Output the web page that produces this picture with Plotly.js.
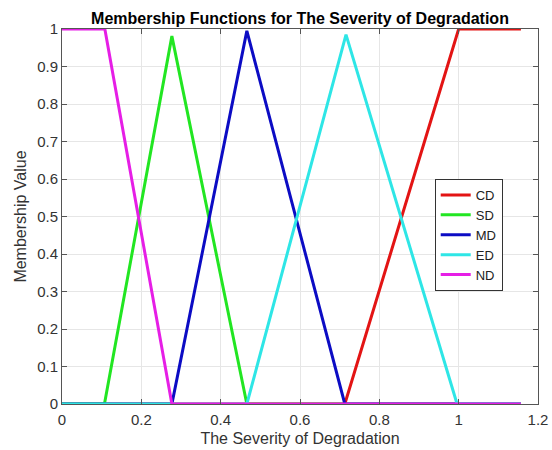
<!DOCTYPE html>
<html>
<head>
<meta charset="utf-8">
<script src="https://cdn.plot.ly/plotly-3.0.1.min.js"></script>
<style>html,body{margin:0;padding:0;background:#fff;}#chart{width:552px;height:450px;}</style>
</head>
<body>
<div id="chart"></div>
<script>
// Series: breakpoints
const seriesNames = ["CD", "SD", "MD", "ED", "ND"];
const cdX = [0, 0.713, 1.0, 1.157];
const cdY = [0, 0, 1, 1];
const sdX = [0, 0.107, 0.277, 0.466, 1.157];
const sdY = [0, 0, 0.981, 0, 0];
const mdX = [0, 0.277, 0.466, 0.713, 1.157];
const mdY = [0, 0, 0.995, 0, 0];
const edX = [0, 0.466, 0.716, 0.996, 1.157];
const edY = [0, 0, 0.985, 0, 0];
const ndX = [0, 0.108, 0.277, 1.157];
const ndY = [1, 1, 0, 0];
const xTicks = [0, 0.2, 0.4, 0.6, 0.8, 1, 1.2];
const xTickLabels = ["0", "0.2", "0.4", "0.6", "0.8", "1", "1.2"];
const yTicks = [0, 0.1, 0.2, 0.3, 0.4, 0.5, 0.6, 0.7, 0.8, 0.9, 1];
const yTickLabels = ["0", "0.1", "0.2", "0.3", "0.4", "0.5", "0.6", "0.7", "0.8", "0.9", "1"];

const colors = ["#e31414", "#22e622", "#0c0cc4", "#2ee6e6", "#e61ee6"];
const xs = [cdX, sdX, mdX, edX, ndX];
const ys = [cdY, sdY, mdY, edY, ndY];

const traces = seriesNames.map((n, i) => ({
  x: xs[i], y: ys[i], name: n, type: "scatter", mode: "lines",
  line: {color: colors[i], width: 3}
}));

const font = "Liberation Sans, Arial, sans-serif";
const axisCommon = {
  showline: true, linecolor: "#555", linewidth: 1, mirror: "ticks",
  ticks: "inside", ticklen: 5, tickcolor: "#555",
  showgrid: true, gridcolor: "#e6e6e6", gridwidth: 1,
  zeroline: false, tickfont: {family: font, size: 15, color: "#333"}
};

const layout = {
  width: 552, height: 450,
  margin: {l: 62, r: 14, t: 29, b: 46},
  paper_bgcolor: "#fff", plot_bgcolor: "#fff",
  title: {text: "<b>Membership Functions for The Severity of Degradation</b>",
          font: {family: font, size: 16, color: "#000"}, x: 0.5, xref: "paper", xanchor: "center", y: 0.96, yanchor: "middle"},
  xaxis: Object.assign({}, axisCommon, {
    range: [0, 1.2], tickvals: xTicks, ticktext: xTickLabels, ticklabelstandoff: 2,
    title: {text: "The Severity of Degradation", font: {family: font, size: 16, color: "#333"}, standoff: 5}
  }),
  yaxis: Object.assign({}, axisCommon, {
    range: [0, 1], tickvals: yTicks, ticktext: yTickLabels,
    title: {text: "Membership Value", font: {family: font, size: 16, color: "#333"}, standoff: 6}
  }),
  showlegend: true,
  legend: {x: 0.783, y: 0.6, xanchor: "left", yanchor: "top", entrywidth: 52,
           bgcolor: "#fff", bordercolor: "#333", borderwidth: 1,
           font: {family: font, size: 13, color: "#222"}, tracegroupgap: 0}
};

Plotly.newPlot("chart", traces, layout, {displayModeBar: false, staticPlot: true});
</script>
</body>
</html>
